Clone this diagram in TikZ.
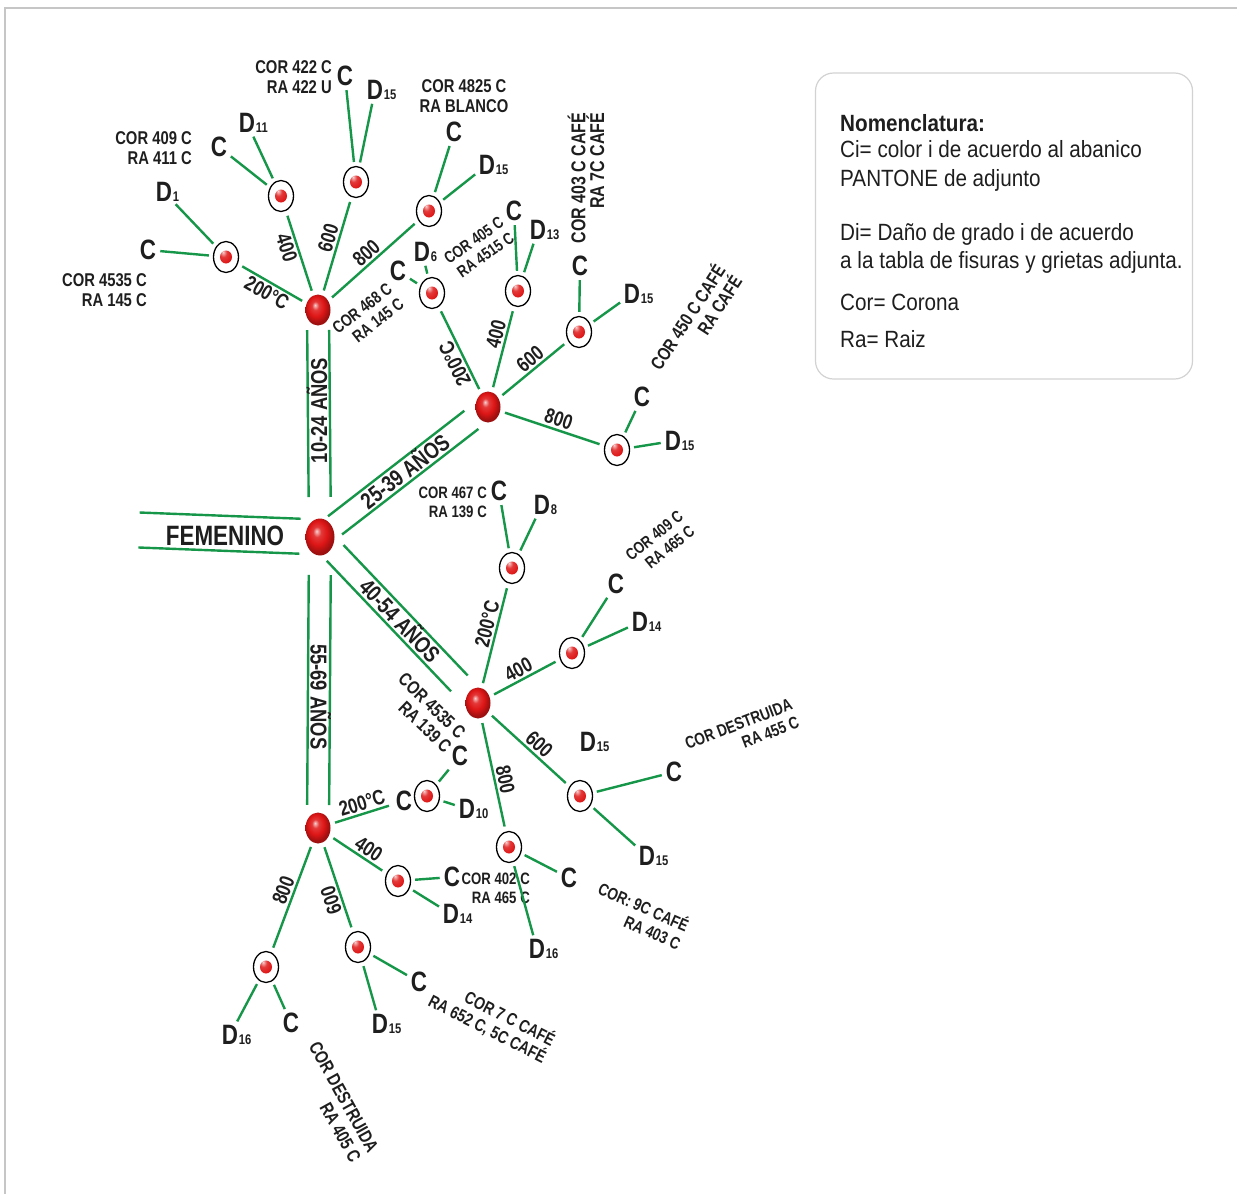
\documentclass[tikz,border=0pt]{standalone}
\usepackage{fontspec}
\setmainfont{Liberation Sans}
\newfontfamily\narrowf[FakeStretch=0.8]{Liberation Sans}
\newfontfamily\legendf[FakeStretch=0.88]{Liberation Sans}
\usetikzlibrary{shapes.geometric,calc}

\definecolor{leaf}{RGB}{22,150,72}
\definecolor{ballred}{RGB}{222,22,22}
\definecolor{ink}{RGB}{30,30,30}
\pgfdeclareradialshading{redball}{\pgfpoint{-6bp}{8bp}}{color(0bp)=(ballred!20!white); color(7bp)=(ballred!85!white); color(16bp)=(ballred); color(25bp)=(ballred!72!black); color(50bp)=(ballred!55!black)}

\newcommand\bigf{\narrowf\bfseries\fontsize{28}{28}\selectfont}
\newcommand\subf{\narrowf\bfseries\fontsize{14}{14}\selectfont}
\newcommand\labf{\narrowf\bfseries\fontsize{18.5}{20}\selectfont}
\newcommand\degf{\narrowf\bfseries\fontsize{21}{21}\selectfont}
\newcommand\agef{\narrowf\bfseries\fontsize{23}{23}\selectfont}
\newcommand\legf{\legendf\fontsize{23.5}{29}\selectfont}
\newcommand\labsize[2]{\narrowf\bfseries\fontsize{#1}{#2}\selectfont}

% D letter with its grade written small on the base line
\newcommand\dnode[3]{%
  \node[ltr] (#1) at (#2) {D};
  \node[subn, anchor=base west, xshift=-1.5pt] (#1s) at (#1.base east) {#3};}
% two green rails between hubs
\newcommand\band[5]{%
  \draw[rail, shorten <=#4, shorten >=#5] ($(#1)!#3!90:(#2)$) -- ($(#2)!#3!-90:(#1)$);
  \draw[rail, shorten <=#4, shorten >=#5] ($(#1)!#3!-90:(#2)$) -- ($(#2)!#3!90:(#1)$);}

\tikzset{
  hub/.style={ellipse, minimum width=25, minimum height=31, inner sep=0, shading=redball},
  tgt/.style={ellipse, draw=black, line width=1.3, fill=white, minimum width=25, minimum height=31, inner sep=0,
    path picture={\shade[shading=redball] (path picture bounding box.center) ellipse (6pt and 6.5pt);}},
  ltr/.style={font=\bigf, inner sep=2},
  subn/.style={font=\subf, inner sep=0},
  rail/.style={draw=leaf, line width=2.4},
  lnk/.style={draw=leaf, line width=2.4, shorten <=5, shorten >=5},
  twig/.style={draw=leaf, line width=2.4, shorten <=4, shorten >=2},
  deg/.style={font=\degf, inner sep=2, sloped},
  agetxt/.style={font=\agef, inner sep=0, text height=16.5pt, text depth=0pt},
  note/.style={font=\labf, align=right, inner sep=0},
  legtxt/.style={font=\legf, anchor=base west, inner sep=0}
}

\begin{document}
\begin{tikzpicture}[x=1pt, y=-1pt, text=ink]
\useasboundingbox (0,0) rectangle (1237,1194);
\draw[gray!45, line width=1.5] (5,1194) -- (5,8) -- (1237,8);

% hubs
\node[hub, minimum width=29, minimum height=37] (fem) at (320,537) {};
\node[hub] (h1) at (318,310) {};
\node[hub] (h2) at (488,407) {};
\node[hub] (h3) at (478,703) {};
\node[hub] (h4) at (318,828) {};
\coordinate (femL) at (139,530);

% age bands
\band{femL}{fem}{17.5pt}{0pt}{20pt}
\band{fem}{h1}{11pt}{40pt}{20pt}
\band{fem}{h2}{11.5pt}{19pt}{21pt}
\band{fem}{h3}{11.5pt}{22pt}{27pt}
\band{fem}{h4}{11pt}{38pt}{23pt}
\node[font=\bigf, text height=20pt, text depth=0pt, inner sep=0] (femtxt) at (225,535) {FEMENINO};
\path (fem) -- node[agetxt, pos=.56, rotate=90] (age1) {10-24 AÑOS} (h1);
\path (fem) -- node[agetxt, sloped] (age2) {25-39 AÑOS} (h2);
\path (fem) -- node[agetxt, sloped] (age3) {40-54 AÑOS} (h3);
\path (fem) -- node[agetxt, pos=.55, rotate=-90] (age4) {55-69 AÑOS} (h4);

% samples
\node[tgt] (t1a) at (226,257) {};
\node[tgt] (t1b) at (281,196) {};
\node[tgt] (t1c) at (356,182) {};
\node[tgt] (t1d) at (429,211) {};
\node[tgt] (t2a) at (432,293) {};
\node[tgt] (t2b) at (518,291) {};
\node[tgt] (t2c) at (579,332) {};
\node[tgt] (t2d) at (617,450) {};
\node[tgt] (t3a) at (512,568) {};
\node[tgt] (t3b) at (572,653) {};
\node[tgt] (t3c) at (580,796) {};
\node[tgt] (t3d) at (509,847) {};
\node[tgt] (t4a) at (427,796) {};
\node[tgt] (t4b) at (398,881) {};
\node[tgt] (t4c) at (358,947) {};
\node[tgt] (t4d) at (266,967) {};

% colour and damage letters
\node[ltr] (c1a) at (148,250) {C}; \dnode{d1a}{164,192}{1}
\node[ltr] (c1b) at (219,147) {C}; \dnode{d1b}{247,123}{11}
\node[ltr] (c1c) at (345,76) {C};  \dnode{d1c}{375,90}{15}
\node[ltr] (c1d) at (454,132) {C}; \dnode{d1d}{487,165}{15}
\node[ltr] (c2a) at (398,271) {C}; \dnode{d2a}{422,252}{6}
\node[ltr] (c2b) at (514,211) {C}; \dnode{d2b}{538,230}{13}
\node[ltr] (c2c) at (580,266) {C}; \dnode{d2c}{632,294}{15}
\node[ltr] (c2d) at (642,397) {C}; \dnode{d2d}{673,441}{15}
\node[ltr] (c3a) at (499,491) {C}; \dnode{d3a}{542,505}{8}
\node[ltr] (c3b) at (616,584) {C}; \dnode{d3b}{640,622}{14}
\node[ltr] (c3c) at (674,772) {C}; \dnode{d3c}{647,856}{15}
\node[ltr] (c3d) at (569,878) {C}; \dnode{d3d}{537,949}{16}
\node[ltr] (c4a0) at (404,801) {C};
\node[ltr] (c4a) at (460,756) {C}; \dnode{d4a}{467,809}{10}
\node[ltr] (c4b) at (452,877) {C}; \dnode{d4b}{451,914}{14}
\node[ltr] (c4c) at (419,982) {C}; \dnode{d4c}{380,1024}{15}
\node[ltr] (c4d) at (291,1023) {C}; \dnode{d4d}{230,1035}{16}
\dnode{dfree}{588,742}{15}

% pantone notes
\node[note, anchor=east] (n1a) at (147,290) {COR 4535 C\\RA 145 C};
\node[note, anchor=east] (n1b) at (192,148) {COR 409 C\\RA 411 C};
\node[note, anchor=east] (n1c) at (332,77) {COR 422 C\\RA 422 U};
\node[note, align=center] (n1d) at (464,96) {COR 4825 C\\RA BLANCO};
\node[note, rotate=38, font=\labsize{17}{19}] (n2a) at (368,316) {COR 468 C\\RA 145 C};
\node[note, rotate=35, font=\labsize{16.5}{18.5}] (n2b) at (479,248) {COR 405 C\\RA 4515 C};
\node[note, rotate=90, font=\labsize{20}{17}] (n2c) at (586,178) {COR 403 C CAFÉ\\RA 7C CAFÉ};
\node[note, rotate=57] (n2d) at (695,322) {COR 450 C CAFÉ\\RA CAFÉ};
\node[note, anchor=east, font=\labsize{16.5}{19}] (n3a) at (487,502) {COR 467 C\\RA 139 C};
\node[note, rotate=39, font=\labsize{16.5}{18.5}] (n3b) at (660,543) {COR 409 C\\RA 465 C};
\node[note, rotate=21, font=\labsize{17}{19}] (n3c) at (742,733) {COR DESTRUIDA\\RA 455 C};
\node[note, rotate=-24, font=\labsize{17}{19.5}] (n3d) at (640,915) {COR: 9C CAFÉ\\RA 403 C};
\node[note, rotate=-44] (n4a) at (425,713) {COR 4535 C\\RA 139 C};
\node[note, anchor=east, font=\labsize{16.5}{19}] (n4b) at (530,888) {COR 402 C\\RA 465 C};
\node[note, rotate=-27, font=\labsize{17.5}{19.5}] (n4c) at (492,1020) {COR 7 C CAFÉ\\RA 652 C, 5C CAFÉ};
\node[note, rotate=-61] (n4d) at (335,1102) {COR DESTRUIDA\\RA 405 C};

% temperature links
\draw[lnk] (h1) -- node[deg, below, pos=.5] (e1a) {200°C} (t1a);
\draw[lnk] (h1) -- node[deg, below, pos=.6] (e1b) {400} (t1b);
\draw[lnk] (h1) -- node[deg, above, pos=.55] (e1c) {600} (t1c);
\draw[lnk] (h1) -- node[deg, above, pos=.5] (e1d) {800} (t1d);
\draw[lnk] (h2) -- node[deg, above, pos=.4, allow upside down] (e2a) {200°C} (t2a);
\draw[lnk] (h2) -- node[deg, above, pos=.65] (e2b) {400} (t2b);
\draw[lnk] (h2) -- node[deg, above, pos=.55] (e2c) {600} (t2c);
\draw[lnk] (h2) -- node[deg, above, pos=.53] (e2d) {800} (t2d);
\draw[lnk] (h3) -- node[deg, above, pos=.59] (e3a) {200°C} (t3a);
\draw[lnk] (h3) -- node[deg, above, pos=.48] (e3b) {400} (t3b);
\draw[lnk] (h3) -- node[deg, above, pos=.54] (e3c) {600} (t3c);
\draw[lnk] (h3) -- node[deg, above, pos=.56] (e3d) {800} (t3d);
\draw[lnk] (h4) -- node[deg, above, pos=.55] (e4a) {200°C} (c4a0);
\draw[lnk] (h4) -- node[deg, above, pos=.59] (e4b) {400} (t4b);
\draw[lnk] (t4c) -- node[deg, above, pos=.39, allow upside down] (e4c) {600} (h4);
\draw[lnk] (h4) -- node[deg, above, pos=.47] (e4d) {800} (t4d);

% sample to letters
\foreach \s in {1a,1b,1c,1d,2a,2b,2c,2d,3a,3b,3c,3d,4a,4b,4c,4d}{
  \draw[twig] (t\s) -- (c\s);
  \draw[twig] (t\s) -- (d\s);
}

% legend
\node[draw=gray!35, line width=1.2, rounded corners=18, minimum width=377, minimum height=306, inner sep=0] (legbox) at (1004,226) {};
\node[legtxt, font=\legf\bfseries] (leg1) at (840,131) {Nomenclatura:};
\node[legtxt] (leg2) at (840,157) {Ci= color i de acuerdo al abanico};
\node[legtxt] (leg3) at (840,186) {PANTONE de adjunto};
\node[legtxt] (leg4) at (840,240) {Di= Daño de grado i de acuerdo};
\node[legtxt] (leg5) at (840,268) {a la tabla de fisuras y grietas adjunta.};
\node[legtxt] (leg6) at (840,310) {Cor= Corona};
\node[legtxt] (leg7) at (840,347) {Ra= Raiz};
\end{tikzpicture}
\end{document}
